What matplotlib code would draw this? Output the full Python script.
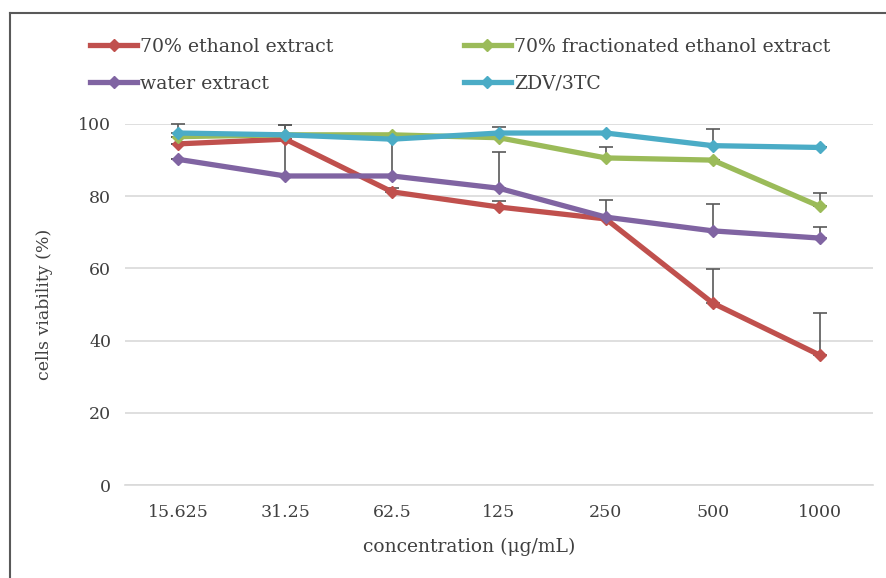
import matplotlib.pyplot as plt
from matplotlib.lines import Line2D

# Dados
concentracoes = ['15.625', '31.25', '62.5', '125', '250', '500', '1000']

etanol_70 = [94.5, 95.8, 81.2, 77.0, 73.7, 50.4, 36.0]
etanol_70_err = [0.0, 0.0, 1.2, 1.8, 5.3, 9.3, 11.6]

fracionado_70 = [96.5, 97.0, 97.0, 96.2, 90.6, 90.0, 77.2]
fracionado_70_err = [0.0, 0.0, 0.0, 0.0, 3.0, 0.0, 3.6]

agua = [90.2, 85.6, 85.6, 82.2, 74.2, 70.4, 68.4]
agua_err = [0.0, 14.0, 10.5, 10.0, 0.0, 7.4, 3.1]

zdv_3tc = [97.5, 97.0, 95.8, 97.5, 97.5, 94.0, 93.5]
zdv_3tc_err = [2.5, 2.7, 0.0, 1.7, 0.0, 4.6, 0.0]

cores = {
    'vermelho': '#C0504D',
    'verde': '#9BBB59',
    'roxo': '#8064A2',
    'ciano': '#4BACC6',
}

plt.rcParams['font.family'] = ['DejaVu Serif']

fig = plt.figure(figsize=(8.87, 5.78), dpi=100)
ax = fig.add_axes([125 / 887, 1 - 485 / 578, 748 / 887, (485 - 124) / 578])

x = list(range(len(concentracoes)))

series = [
    (etanol_70, etanol_70_err, cores['vermelho']),
    (fracionado_70, fracionado_70_err, cores['verde']),
    (agua, agua_err, cores['roxo']),
    (zdv_3tc, zdv_3tc_err, cores['ciano']),
]

# Barras de erro (só para cima, estilo Excel)
for valores, erros, cor in series:
    ax.errorbar(x, valores, yerr=[[0] * len(erros), erros], fmt='none',
                ecolor='#595959', elinewidth=1.2, capsize=5, capthick=1.2,
                zorder=2, clip_on=False)

for valores, erros, cor in series:
    ax.plot(x, valores, color=cor, linewidth=3.8, marker='D', markersize=6,
            zorder=3, clip_on=False)

ax.set_xlim(-0.5, len(concentracoes) - 0.5)
ax.set_ylim(0, 100)
ax.set_yticks([0, 20, 40, 60, 80, 100])
ax.set_xticks(x)
ax.set_xticklabels(concentracoes)
ax.tick_params(axis='both', length=0, labelsize=12.5, colors='#404040', pad=10)
ax.tick_params(axis='x', pad=14)
ax.grid(axis='y', color='#D9D9D9', linewidth=1.2)
ax.set_axisbelow(True)
for lado in ['top', 'right', 'left']:
    ax.spines[lado].set_visible(False)
ax.spines['bottom'].set_color('#D9D9D9')
ax.spines['bottom'].set_linewidth(1.2)

ax.set_xlabel('concentration (μg/mL)', fontsize=13.5, color='#404040')
ax.xaxis.set_label_coords((469 - 125) / 748, -(538 - 485) / 361)
ax.set_ylabel('cells viability (%)', fontsize=12.5, color='#404040', labelpad=18)

# Legenda em duas colunas
def item(cor):
    return Line2D([], [], color=cor, linewidth=3.8, marker='D', markersize=6)

handles = [item(cores['vermelho']), item(cores['roxo']),
           item(cores['verde']), item(cores['ciano'])]
labels = ['70% ethanol extract', 'water extract',
          '70% fractionated ethanol extract', 'ZDV/3TC']
fig.legend(handles, labels, ncol=2, loc='upper left',
           bbox_to_anchor=(90 / 887, 1 - 38 / 578), frameon=False,
           borderpad=0, borderaxespad=0,
           fontsize=13.6, handlelength=2.5, handletextpad=0.15,
           columnspacing=6.9, labelspacing=0.98, labelcolor='#404040')

# Moldura externa (esquerda e topo)
fig.add_artist(Line2D([10 / 887, 10 / 887], [0, 1 - 13 / 578],
                      transform=fig.transFigure, color='#595959', linewidth=1.5))
fig.add_artist(Line2D([10 / 887, 1], [1 - 13 / 578, 1 - 13 / 578],
                      transform=fig.transFigure, color='#595959', linewidth=1.5))

fig.savefig('out.png', dpi=100)
